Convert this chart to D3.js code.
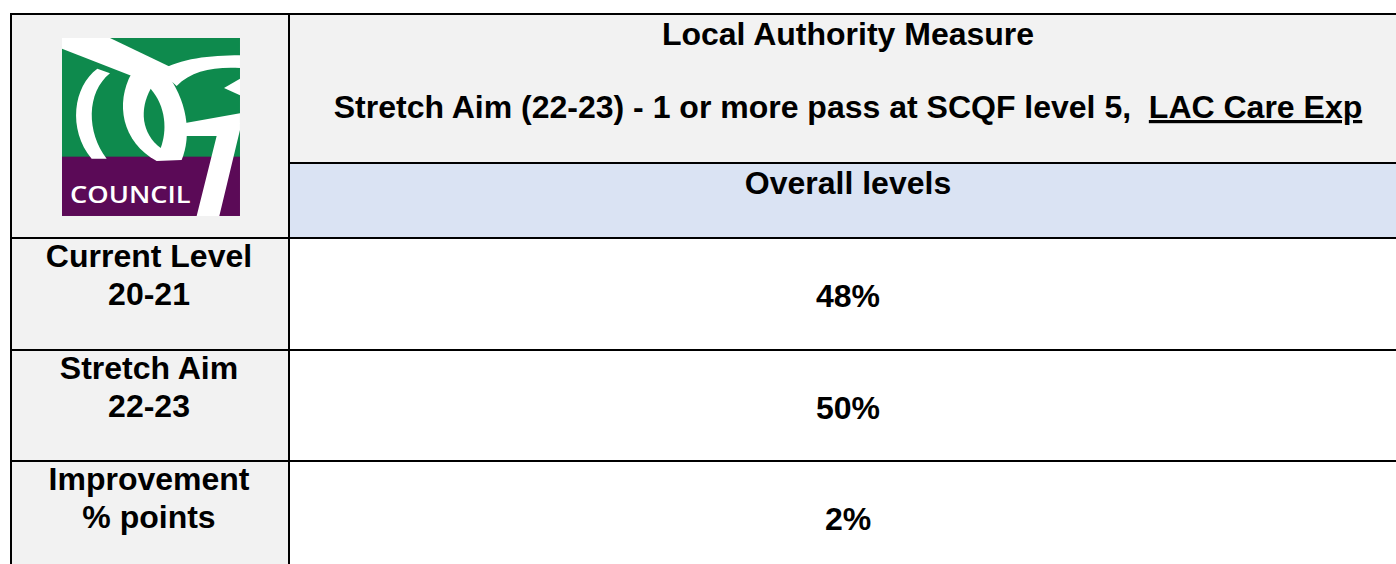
<!DOCTYPE html>
<html>
<head>
<meta charset="utf-8">
<script src="https://cdn.jsdelivr.net/npm/d3@7"></script>
<style>
  body { margin: 0; background: #fff; }
  text { font-family: "Liberation Sans", Arial, sans-serif; font-weight: bold; }
</style>
</head>
<body>
<div id="vis"></div>
<script>
// Table content
let headerTitle = "Local Authority Measure";
let headerAim = "Stretch Aim (22-23) - 1 or more pass at SCQF level 5,  ";
let headerAimLink = "LAC Care Exp";
let columnTitle = "Overall levels";
let rowKeys = ["current", "aim", "improvement"];
let rowLine1 = ["Current Level", "Stretch Aim", "Improvement"];
let rowLine2 = ["20-21", "22-23", "% points"];
let rowValues = ["48%", "50%", "2%"];

// Set up dimensions
let width = 1396,
    height = 564;

let table = {
  left: 11,
  top: 14,
  split: 289,
  right: 1407,
  headerMid: 163,
  bodyTop: 238,
  bottom: 573
};

let svg = d3.select('#vis')
            .append('svg')
            .attr('width', width)
            .attr('height', height)
            .style('display', 'block')
            .style('background', '#ffffff');

// Rows through a band scale
let yScale = d3.scaleBand()
    .domain(rowKeys)
    .range([table.bodyTop, table.bottom]);

let colCenter = {
  label: 149,
  value: 848
};

// Cell backgrounds
svg.append('rect')
    .attr('x', table.left).attr('y', table.top)
    .attr('width', table.split - table.left).attr('height', table.bottom - table.top)
    .attr('fill', '#f2f2f2');

svg.append('rect')
    .attr('x', table.split).attr('y', table.top)
    .attr('width', table.right - table.split).attr('height', table.headerMid - table.top)
    .attr('fill', '#f2f2f2');

svg.append('rect')
    .attr('x', table.split).attr('y', table.headerMid)
    .attr('width', table.right - table.split).attr('height', table.bodyTop - table.headerMid)
    .attr('fill', '#dae3f3');

svg.append('rect')
    .attr('x', table.split).attr('y', table.bodyTop)
    .attr('width', table.right - table.split).attr('height', table.bottom - table.bodyTop)
    .attr('fill', '#ffffff');

// Logo, drawn roughly in a 3x local grid (logo box = 6..540)
let logo = svg.append('g').attr('transform', 'translate(60, 36) scale(0.3333)');
let green = '#0e8a4d', purple = '#5b0a57';

logo.append('rect').attr('x', 6).attr('y', 6).attr('width', 534).attr('height', 364).attr('fill', green);
logo.append('rect').attr('x', 6).attr('y', 362).attr('width', 534).attr('height', 178).attr('fill', purple);

let whiteShapes = [
  // top diagonal band
  'M6,6 L150,6 L330,92 L280,135 L210,118 L6,38 Z',
  // left C stroke
  'M112,98 C40,150 22,280 95,368 L140,368 C80,290 78,170 150,112 Z',
  // ring round the middle lens
  'M215,112 C165,200 185,320 290,375 L365,372 C395,300 385,190 310,100 Z',
  // G outer arc
  'M300,104 C360,68 450,58 540,58 L540,96 C460,92 395,104 350,150 Z',
  // G spur
  'M540,128 L492,156 L540,178 Z',
  // G crossbar and the 7 stroke
  'M372,262 L540,232 L540,282 L478,540 L410,540 L470,300 L378,300 Z'
];

logo.selectAll('path.logo')
    .data(whiteShapes)
    .enter()
    .append('path')
    .attr('class', 'logo')
    .attr('d', d => d)
    .attr('fill', '#ffffff');

// green lens inside the ring
logo.append('path')
    .attr('d', 'M272,158 C238,220 244,292 302,336 C322,282 318,212 272,158 Z')
    .attr('fill', green);

logo.append('text')
    .attr('x', 30)
    .attr('y', 500)
    .attr('textLength', 362)
    .attr('lengthAdjust', 'spacingAndGlyphs')
    .text('COUNCIL')
    .style('font-family', '"Open Sans", sans-serif')
    .style('font-weight', '600')
    .style('font-size', '72px')
    .attr('fill', '#ffffff');

// Header texts
svg.append('text')
    .attr('x', colCenter.value)
    .attr('y', 45)
    .attr('text-anchor', 'middle')
    .style('font-size', '32px')
    .text(headerTitle);

let aim = svg.append('text')
    .attr('x', colCenter.value)
    .attr('y', 118)
    .attr('text-anchor', 'middle')
    .style('font-size', '32px')
    .style('white-space', 'pre');

aim.append('tspan').text(headerAim);
aim.append('tspan').text(headerAimLink).style('text-decoration', 'underline');

svg.append('text')
    .attr('x', colCenter.value)
    .attr('y', 194)
    .attr('text-anchor', 'middle')
    .style('font-size', '32px')
    .text(columnTitle);

// Row labels and values
let rows = svg.selectAll('g.row')
    .data(rowKeys)
    .enter()
    .append('g')
    .attr('class', 'row');

rows.append('text')
    .attr('x', colCenter.label)
    .attr('y', d => yScale(d) + 29)
    .attr('text-anchor', 'middle')
    .style('font-size', '32px')
    .text((d, i) => rowLine1[i]);

rows.append('text')
    .attr('x', colCenter.label)
    .attr('y', d => yScale(d) + 67)
    .attr('text-anchor', 'middle')
    .style('font-size', '32px')
    .text((d, i) => rowLine2[i]);

rows.append('text')
    .attr('x', colCenter.value)
    .attr('y', d => yScale(d) + 69)
    .attr('text-anchor', 'middle')
    .style('font-size', '32px')
    .text((d, i) => rowValues[i]);

// Grid lines
let lineStyle = sel => sel.attr('stroke', '#000').attr('stroke-width', 2);

let hLines = [
  {y: table.top, x1: table.left, x2: table.right},
  {y: table.headerMid, x1: table.split, x2: table.right},
  {y: table.bodyTop, x1: table.left, x2: table.right}
].concat(rowKeys.slice(1).map(k => ({y: Math.round(yScale(k)), x1: table.left, x2: table.right})));

svg.selectAll('line.h')
    .data(hLines)
    .enter()
    .append('line')
    .attr('class', 'h')
    .attr('x1', d => d.x1 - 1)
    .attr('x2', d => d.x2)
    .attr('y1', d => d.y)
    .attr('y2', d => d.y)
    .call(lineStyle);

svg.selectAll('line.v')
    .data([table.left, table.split])
    .enter()
    .append('line')
    .attr('class', 'v')
    .attr('x1', d => d)
    .attr('x2', d => d)
    .attr('y1', table.top - 1)
    .attr('y2', table.bottom)
    .call(lineStyle);
</script>
</body>
</html>
